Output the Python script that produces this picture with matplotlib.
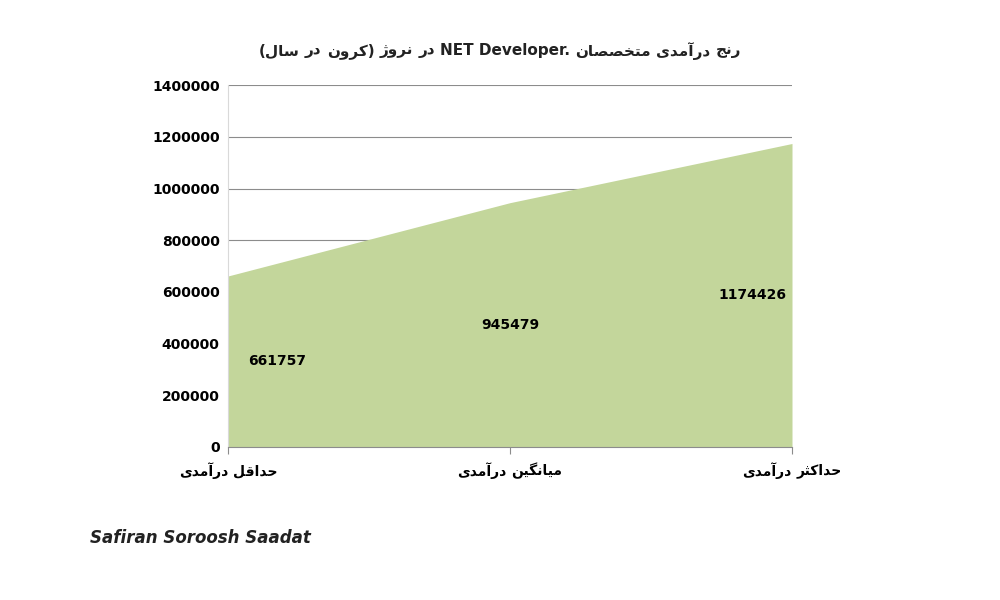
import matplotlib
matplotlib.use("Agg")
import matplotlib.pyplot as plt

categories = ["حداقل درآمدی", "میانگین درآمدی", "حداکثر درآمدی"]
values = [661757, 945479, 1174426]
yticks = [0, 200000, 400000, 600000, 800000, 1000000, 1200000, 1400000]
# logical (reading) order of the title
title_words = ["رنج", "درآمدی", "متخصصان", "NET Developer.", "در", "نروژ", "(کرون", "در", "سال)"]

FORMS = {
    'ا': ('\uFE8D', '\uFE8E', None, None), 'آ': ('\uFE81', '\uFE82', None, None),
    'ب': ('\uFE8F', '\uFE90', '\uFE91', '\uFE92'), 'پ': ('\uFB56', '\uFB57', '\uFB58', '\uFB59'),
    'ت': ('\uFE95', '\uFE96', '\uFE97', '\uFE98'), 'ث': ('\uFE99', '\uFE9A', '\uFE9B', '\uFE9C'),
    'ج': ('\uFE9D', '\uFE9E', '\uFE9F', '\uFEA0'), 'ح': ('\uFEA1', '\uFEA2', '\uFEA3', '\uFEA4'),
    'خ': ('\uFEA5', '\uFEA6', '\uFEA7', '\uFEA8'), 'د': ('\uFEA9', '\uFEAA', None, None),
    'ر': ('\uFEAD', '\uFEAE', None, None), 'ز': ('\uFEAF', '\uFEB0', None, None),
    'ژ': ('\uFB8A', '\uFB8B', None, None), 'س': ('\uFEB1', '\uFEB2', '\uFEB3', '\uFEB4'),
    'ص': ('\uFEB9', '\uFEBA', '\uFEBB', '\uFEBC'), 'ق': ('\uFED5', '\uFED6', '\uFED7', '\uFED8'),
    'ک': ('\uFB8E', '\uFB8F', '\uFB90', '\uFB91'), 'گ': ('\uFB92', '\uFB93', '\uFB94', '\uFB95'),
    'ل': ('\uFEDD', '\uFEDE', '\uFEDF', '\uFEE0'), 'م': ('\uFEE1', '\uFEE2', '\uFEE3', '\uFEE4'),
    'ن': ('\uFEE5', '\uFEE6', '\uFEE7', '\uFEE8'), 'و': ('\uFEED', '\uFEEE', None, None),
    'ی': ('\uFBFC', '\uFBFD', '\uFBFE', '\uFBFF'),
}
MIRROR = {'(': ')', ')': '('}

def shape_word(w):
    out = []
    n = len(w)
    for i, c in enumerate(w):
        if c not in FORMS:
            out.append(c); continue
        iso, fin, ini, med = FORMS[c]
        pj = i > 0 and w[i-1] in FORMS and FORMS[w[i-1]][2] is not None
        nj = i < n-1 and w[i+1] in FORMS and ini is not None
        out.append(med if pj and nj else fin if pj else ini if nj else iso)
    return ''.join(out)

def visual_word(w):
    if not any(c in FORMS for c in w):
        return w
    # RTL word: reverse glyphs, mirror brackets
    return ''.join(MIRROR.get(c, c) for c in reversed(shape_word(w)))

def draw_line(fig, words, xc, y, **kw):
    r = fig.canvas.get_renderer()
    pieces = [visual_word(w) for w in reversed(words)]  # RTL paragraph
    arts = [fig.text(0, y, p, ha='left', va='center', **kw) for p in pieces]
    sp = fig.text(0, y, 'a a', **kw); w2 = sp.get_window_extent(r).width
    sp.set_text('aa'); w1 = sp.get_window_extent(r).width; sp.remove()
    space = (w2 - w1) / fig.bbox.width
    widths = [a.get_window_extent(r).width / fig.bbox.width for a in arts]
    total = sum(widths) + space * (len(arts) - 1)
    x = xc - total / 2
    for a, wd in zip(arts, widths):
        a.set_x(x); x += wd + space
    return arts

plt.rcParams['font.family'] = 'DejaVu Sans'
fig = plt.figure(figsize=(10, 6), dpi=100)
ax = fig.add_axes([0.228, 0.255, 0.564, 0.603])
x = list(range(len(values)))
ax.fill_between(x, values, 0, color='#c3d69b', linewidth=0)
ax.set_xlim(0, len(values) - 1)
ax.set_ylim(0, 1400000)
ax.set_yticks(yticks)
ax.set_yticklabels([str(v) for v in yticks], fontsize=10, fontweight='bold')
ax.set_xticks(x)
ax.set_xticklabels([])
ax.yaxis.grid(True, color='#8c8c8c', linewidth=0.8)
ax.set_axisbelow(True)
for s in ['top', 'right']:
    ax.spines[s].set_visible(False)
ax.spines['left'].set_color('#d9d9d9')
ax.spines['bottom'].set_color('#8c8c8c')
ax.tick_params(axis='y', length=0, pad=6)
ax.tick_params(axis='x', length=5, color='#8c8c8c')
fig.canvas.draw()
for i, c in enumerate(categories):
    xf = 0.228 + 0.564 * i / (len(categories) - 1)
    draw_line(fig, c.split(' '), xf, 0.215, fontsize=10, fontweight='bold')
has = ['left', 'center', 'right']
offs = [0.07, 0, -0.02]
for i, v in enumerate(values):
    ax.text(i + offs[i], v / 2, str(v), ha=has[i], va='center', fontsize=10, fontweight='bold')
draw_line(fig, title_words, 0.5, 0.915, fontsize=11, fontweight='bold', color='#222222')
fig.text(0.09, 0.095, "Safiran Soroosh Saadat", fontsize=12, fontweight='bold', style='italic', color='#222222')
fig.savefig('out.png', dpi=100)
